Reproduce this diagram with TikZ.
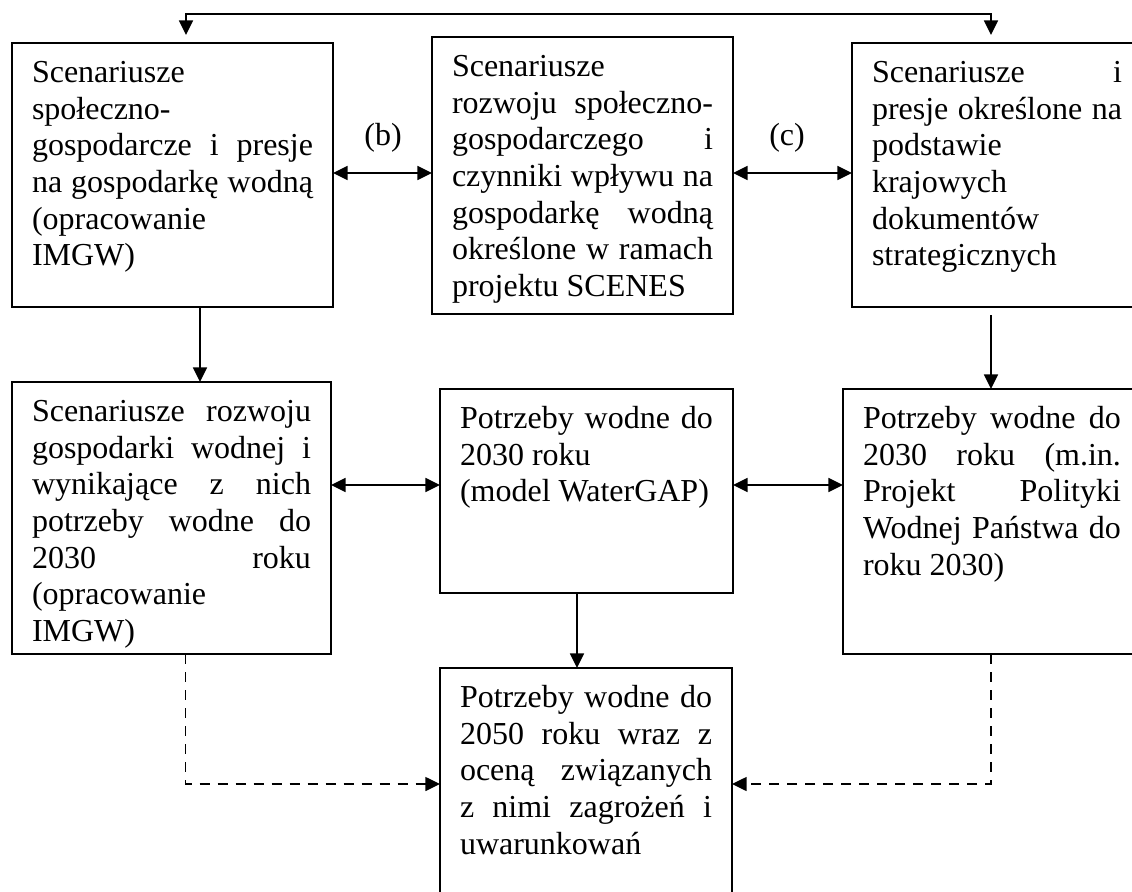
\documentclass[tikz,border=0pt]{standalone}
\usepackage{fontspec}
\setmainfont{Liberation Serif}
\usetikzlibrary{arrows.meta,calc}
\newlength{\px}\setlength{\px}{0.75pt}
\newcommand{\jline}[1]{\makebox[\hsize][s]{\strut #1}}
\newcommand{\lline}[1]{\strut #1}
\newcommand{\btext}[3]{\parbox[t][\dimexpr #2\px-20.8pt\relax][t]{#1\px}{#3}}
\begin{document}
\begin{tikzpicture}[x=0.75pt,y=-0.75pt,
  box/.style={draw, line width=1.1pt, inner xsep=15pt, inner ysep=10.4pt, outer sep=0pt, anchor=north west, font=\fontsize{24}{27.5}\selectfont},
  lbl/.style={inner sep=0pt, font=\fontsize{24}{27.5}\selectfont},
  conn/.style={line width=1.3pt, -{Triangle[length=11pt,width=10.5pt]}},
  dconn/.style={line width=1.3pt, {Triangle[length=11pt,width=10.5pt]}-{Triangle[length=11pt,width=10.5pt]}},
  dashconn/.style={line width=1.1pt, dash pattern=on 7.5pt off 6pt, -{Triangle[length=11pt,width=10.5pt]}}]
\useasboundingbox (0,0) rectangle (1132,892);
\clip (0,0) rectangle (1132,892);

\node[box] (b1) at (12,43) {\btext{281}{264}{\lline{Scenariusze}\par\lline{społeczno-}\par\jline{gospodarcze i presje}\par\jline{na gospodarkę wodną}\par\lline{(opracowanie}\par\lline{IMGW)}}};
\node[box] (b2) at (432,37) {\btext{261}{277}{\lline{Scenariusze}\par\jline{rozwoju społeczno-}\par\jline{gospodarczego i}\par\jline{czynniki wpływu na}\par\jline{gospodarkę wodną}\par\jline{określone w ramach}\par\lline{projektu SCENES}}};
\node[box] (b3) at (852,43) {\btext{250}{264}{\jline{Scenariusze i}\par\jline{presje określone na}\par\lline{podstawie}\par\lline{krajowych}\par\lline{dokumentów}\par\lline{strategicznych}}};
\node[box] (b4) at (12,382) {\btext{279}{272}{\jline{Scenariusze rozwoju}\par\jline{gospodarki wodnej i}\par\jline{wynikające z nich}\par\jline{potrzeby wodne do}\par\jline{2030 roku}\par\lline{(opracowanie}\par\lline{IMGW)}}};
\node[box] (b5) at (440,389) {\btext{253}{204}{\jline{Potrzeby wodne do}\par\lline{2030 roku}\par\lline{(model WaterGAP)}}};
\node[box] (b6) at (843,389) {\btext{258}{265}{\jline{Potrzeby wodne do}\par\jline{2030 roku (m.in.}\par\jline{Projekt Polityki}\par\jline{Wodnej Państwa do}\par\lline{roku 2030)}}};
\node[box] (b7) at (440,668) {\btext{252}{265}{\jline{Potrzeby wodne do}\par\jline{2050 roku wraz z}\par\jline{oceną związanych}\par\jline{z nimi zagrożeń i}\par\lline{uwarunkowań}}};

\node[lbl] (lb) at (383,137.5) {(b)};
\node[lbl] (lc) at (787,137.5) {(c)};

% top connector
\coordinate (t1) at ([shift={(13.5,-8)}]b1.north);
\coordinate (t3) at ([shift={(-6,-8)}]b3.north);
\draw[dconn] (t1) -- ++(0,-21) -| (t3);

% vertical solid connectors
\coordinate (s1) at ([shift={(27.5,0)}]b1.south);
\draw[conn] (s1) -- (s1 |- b4.north);
\coordinate (s3) at ([shift={(-6,8)}]b3.south);
\draw[conn] (s3) -- (s3 |- b6.north);
\coordinate (s5) at ([shift={(-9.5,0)}]b5.south);
\draw[conn] (s5) -- (s5 |- b7.north);

% horizontal double connectors
\coordinate (m12) at ([shift={(0,-2)}]b1.east);
\draw[dconn] (m12) -- (m12 -| b2.west);
\coordinate (m23) at ([shift={(0,-2.5)}]b2.east);
\draw[dconn] (m23) -- (m23 -| b3.west);
\coordinate (m45) at ([shift={(0,-6)}]b5.west);
\draw[dconn] (m45 -| b4.east) -- (m45);
\coordinate (m56) at ([shift={(0,-6)}]b5.east);
\draw[dconn] (m56) -- (m56 -| b6.west);

% dashed connectors
\coordinate (d4) at ([shift={(14,0)}]b4.south);
\coordinate (w7) at ([shift={(0,-16.5)}]b7.west);
\draw[dashconn] (d4) |- (w7);
\coordinate (d6) at ([shift={(-1,0)}]b6.south);
\coordinate (e7) at ([shift={(0,-16.5)}]b7.east);
\draw[dashconn] (d6) |- (e7);
\end{tikzpicture}
\end{document}
